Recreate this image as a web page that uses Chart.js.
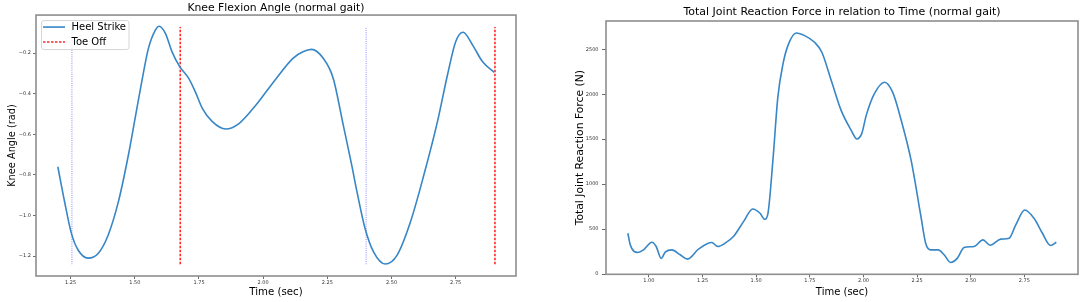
<!DOCTYPE html>
<html>
<head>
<meta charset="utf-8">
<script src="https://cdn.jsdelivr.net/npm/chart.js@4"></script>
<style>
  html, body { margin: 0; padding: 0; background: #fff; }
  #wrap { position: relative; width: 1084px; height: 302px; }
  #kneeBox { position: absolute; left: 0; top: 0; width: 540px; height: 302px; }
  #forceBox { position: absolute; left: 540px; top: 0; width: 544px; height: 302px; }
</style>
</head>
<body>
<div id="wrap">
  <div id="kneeBox"><canvas id="kneeChart" width="540" height="302"></canvas></div>
  <div id="forceBox"><canvas id="forceChart" width="544" height="302"></canvas></div>
</div>
<script>
// Knee flexion angle (rad) over time (sec)
const kneeTime = [1.20, 1.226, 1.253, 1.279, 1.318, 1.357, 1.396, 1.436, 1.475, 1.501,
  1.527, 1.553, 1.580, 1.595, 1.619, 1.645, 1.675, 1.710, 1.737, 1.763,
  1.802, 1.854, 1.907, 1.972, 2.051, 2.116, 2.155, 2.188, 2.234, 2.273,
  2.312, 2.345, 2.365, 2.397, 2.430, 2.476, 2.522, 2.574, 2.626, 2.679,
  2.718, 2.750, 2.779, 2.816, 2.855, 2.90];
const kneeAngle = [-0.76, -0.93, -1.088, -1.17, -1.21, -1.187, -1.097, -0.932, -0.702, -0.522,
  -0.341, -0.177, -0.087, -0.068, -0.103, -0.194, -0.267, -0.325, -0.395, -0.472,
  -0.538, -0.574, -0.546, -0.456, -0.325, -0.226, -0.194, -0.182, -0.226, -0.325,
  -0.555, -0.752, -0.88, -1.064, -1.179, -1.239, -1.195, -1.031, -0.801, -0.538,
  -0.308, -0.144, -0.098, -0.161, -0.243, -0.295];

// gait events
const heelStrikes = [1.255, 2.401];
const toeOffs = [1.677, 2.903];
const eventLineRange = [-1.24, -0.072];

// Total joint reaction force (N) over time (sec)
const forceTime = [0.902, 0.913, 0.949, 0.975, 1.014, 1.034, 1.057, 1.076, 1.107, 1.146,
  1.180, 1.231, 1.293, 1.321, 1.355, 1.394, 1.441, 1.484, 1.518, 1.540,
  1.555, 1.578, 1.601, 1.625, 1.651, 1.687, 1.726, 1.772, 1.806, 1.850,
  1.896, 1.943, 1.969, 1.992, 2.013, 2.051, 2.098, 2.136, 2.176, 2.222,
  2.268, 2.290, 2.313, 2.349, 2.376, 2.406, 2.438, 2.469, 2.515, 2.557,
  2.590, 2.640, 2.679, 2.710, 2.752, 2.795, 2.834, 2.872, 2.899];
const forceValue = [454, 325, 240, 269, 354, 306, 173, 244, 269, 214,
  166, 277, 350, 306, 343, 417, 583, 724, 676, 609,
  676, 1267, 1968, 2338, 2560, 2682, 2652, 2578, 2467, 2153,
  1821, 1599, 1503, 1562, 1765, 2006, 2134, 2023, 1710, 1267,
  640, 343, 269, 269, 214, 129, 177, 295, 306, 380,
  321, 388, 399, 546, 712, 620, 454, 317, 354];

// tick labels
const kneeTimeTicks = [1.25, 1.50, 1.75, 2.00, 2.25, 2.50, 2.75];
const kneeAngleTicks = [-1.2, -1.0, -0.8, -0.6, -0.4, -0.2];
const forceTimeTicks = [1.00, 1.25, 1.50, 1.75, 2.00, 2.25, 2.50, 2.75];
const forceTicks = [0, 500, 1000, 1500, 2000, 2500];

const FONT = "'DejaVu Sans', sans-serif";
const LINE_BLUE = "#3786c6";

function toPoints(xs, ys) {
  return xs.map((x, i) => ({ x: x, y: ys[i] }));
}

function fixedTicks(values) {
  return (scale) => {
    scale.ticks = values.map((v) => ({ value: v }));
  };
}

function minusLabel(digits) {
  return (v) => (v < 0 ? "\u2212" + Math.abs(v).toFixed(digits) : v.toFixed(digits));
}

// grey box around the plot area, like matplotlib spines
const framePlugin = {
  id: "frame",
  afterDraw(chart) {
    const a = chart.chartArea;
    const ctx = chart.ctx;
    ctx.save();
    ctx.strokeStyle = "#8e8e8e";
    ctx.lineWidth = 1.6;
    ctx.strokeRect(a.left, a.top, a.right - a.left, a.bottom - a.top);
    ctx.restore();
  },
};

// legend box in the upper left corner of the plot area
const insideLegend = {
  id: "insideLegend",
  afterDraw(chart) {
    const items = chart.data.datasets.filter((d) => d.inLegend);
    if (!items.length) return;
    const a = chart.chartArea;
    const ctx = chart.ctx;
    const x = a.left + 5.5;
    const y = a.top + 5.5;
    const w = 87.5;
    const h = 29;
    ctx.save();
    ctx.beginPath();
    ctx.roundRect(x, y, w, h, 2.5);
    ctx.fillStyle = "rgba(255,255,255,0.85)";
    ctx.fill();
    ctx.strokeStyle = "#d6d6d6";
    ctx.lineWidth = 1;
    ctx.stroke();
    ctx.font = "10px " + FONT;
    ctx.textBaseline = "middle";
    items.forEach((d, i) => {
      const ly = y + 6.5 + i * 15;
      ctx.beginPath();
      ctx.setLineDash(d.borderDash || []);
      ctx.strokeStyle = d.borderColor;
      ctx.lineWidth = d.borderWidth;
      ctx.moveTo(x + 1.5, ly);
      ctx.lineTo(x + 23.5, ly);
      ctx.stroke();
      ctx.setLineDash([]);
      ctx.fillStyle = "#000";
      ctx.fillText(d.label, x + 30, ly + 0.5);
    });
    ctx.restore();
  },
};

// knee chart datasets
const kneeDatasets = [
  {
    label: "Heel Strike",
    inLegend: true,
    data: toPoints(kneeTime, kneeAngle),
    borderColor: LINE_BLUE,
    borderWidth: 1.6,
    pointRadius: 0,
    cubicInterpolationMode: "monotone",
  },
];
heelStrikes.forEach((t) => {
  kneeDatasets.push({
    label: "heel",
    data: eventLineRange.map((v) => ({ x: t, y: v })),
    borderColor: "rgba(110,110,255,0.8)",
    borderWidth: 1,
    borderDash: [1, 1.2],
    pointRadius: 0,
  });
});
toeOffs.forEach((t, i) => {
  kneeDatasets.push({
    label: "Toe Off",
    inLegend: i === 0,
    data: eventLineRange.map((v) => ({ x: t, y: v })),
    borderColor: "#ff2a2a",
    borderWidth: 1.6,
    borderDash: [2.5, 1.5],
    pointRadius: 0,
  });
});

new Chart(document.getElementById("kneeChart"), {
  type: "line",
  data: { datasets: kneeDatasets },
  options: {
    responsive: false,
    animation: false,
    layout: { padding: { left: 0, right: 24, top: 0, bottom: 0 } },
    plugins: {
      legend: { display: false },
      tooltip: { enabled: false },
      title: {
        display: true,
        fullSize: false,
        text: "Knee Flexion Angle (normal gait)",
        color: "#000",
        font: { family: FONT, size: 10.8, weight: "normal" },
        padding: { top: 1.3, bottom: 0.8 },
      },
    },
    scales: {
      x: {
        type: "linear",
        min: 1.115,
        max: 2.985,
        afterBuildTicks: fixedTicks(kneeTimeTicks),
        afterFit: (s) => { s.height = 26; },
        border: { display: false },
        grid: { drawOnChartArea: false, drawTicks: true, tickLength: 3, tickColor: "#444", tickWidth: 0.8 },
        ticks: { font: { family: FONT, size: 5 }, color: "#333", padding: 0.5, maxRotation: 0, callback: (v) => v.toFixed(2) },
        title: {
          display: true,
          text: "Time (sec)",
          color: "#000",
          font: { family: FONT, size: 10.2 },
          padding: { top: 0, bottom: 4 },
        },
      },
      y: {
        min: -1.298,
        max: -0.013,
        afterBuildTicks: fixedTicks(kneeAngleTicks),
        afterFit: (s) => { s.width = 36; },
        border: { display: false },
        grid: { drawOnChartArea: false, drawTicks: true, tickLength: 3, tickColor: "#444", tickWidth: 0.8 },
        ticks: { font: { family: FONT, size: 5 }, color: "#333", padding: 2, callback: minusLabel(1) },
        title: {
          display: true,
          text: "Knee Angle (rad)",
          color: "#000",
          font: { family: FONT, size: 9.8 },
          padding: { top: 6.6, bottom: 0 },
        },
      },
    },
  },
  plugins: [framePlugin, insideLegend],
});

new Chart(document.getElementById("forceChart"), {
  type: "line",
  data: {
    datasets: [
      {
        label: "Total Joint Reaction Force",
        data: toPoints(forceTime, forceValue),
        borderColor: LINE_BLUE,
        borderWidth: 1.6,
        pointRadius: 0,
        cubicInterpolationMode: "monotone",
      },
    ],
  },
  options: {
    responsive: false,
    animation: false,
    layout: { padding: { left: 0, right: 6, top: 0, bottom: 0 } },
    plugins: {
      legend: { display: false },
      tooltip: { enabled: false },
      title: {
        display: true,
        fullSize: false,
        text: "Total Joint Reaction Force in relation to Time (normal gait)",
        color: "#000",
        font: { family: FONT, size: 11, weight: "normal" },
        padding: { top: 6, bottom: 1.8 },
      },
    },
    scales: {
      x: {
        type: "linear",
        min: 0.8,
        max: 3.0,
        afterBuildTicks: fixedTicks(forceTimeTicks),
        afterFit: (s) => { s.height = 27.7; },
        border: { display: false },
        grid: { drawOnChartArea: false, drawTicks: true, tickLength: 3, tickColor: "#444", tickWidth: 0.8 },
        ticks: { font: { family: FONT, size: 5 }, color: "#333", padding: 0.7, maxRotation: 0, callback: (v) => v.toFixed(2) },
        title: {
          display: true,
          text: "Time (sec)",
          color: "#000",
          font: { family: FONT, size: 10 },
          padding: { top: 0, bottom: 3.8 },
        },
      },
      y: {
        min: -3,
        max: 2815,
        afterBuildTicks: fixedTicks(forceTicks),
        afterFit: (s) => { s.width = 66; },
        border: { display: false },
        grid: { drawOnChartArea: false, drawTicks: true, tickLength: 4, tickColor: "#444", tickWidth: 0.8 },
        ticks: { font: { family: FONT, size: 5 }, color: "#333", padding: 3.5, callback: (v) => String(v) },
        title: {
          display: true,
          text: "Total Joint Reaction Force (N)",
          color: "#000",
          font: { family: FONT, size: 10.8 },
          padding: { top: 33.4, bottom: 0 },
        },
      },
    },
  },
  plugins: [framePlugin],
});
</script>
</body>
</html>
